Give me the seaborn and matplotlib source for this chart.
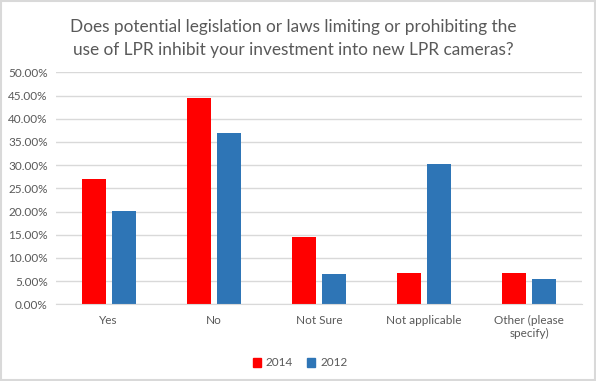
import seaborn as sns
import matplotlib.pyplot as plt
import matplotlib.ticker as mticker
import pandas as pd

categories = ['Yes', 'No', 'Not Sure', 'Not applicable', 'Other (please\nspecify)']
years = ['2014', '2012']
vals_2014 = [27.0, 44.5, 14.5, 6.75, 6.75]
vals_2012 = [20.1, 36.9, 6.5, 30.2, 5.5]

df = pd.DataFrame({
    'category': categories * 2,
    'year': [years[0]] * 5 + [years[1]] * 5,
    'pct': vals_2014 + vals_2012,
})

plt.rcParams['font.family'] = ['Lato', 'DejaVu Sans']
grey = '#595959'
grid = '#d9d9d9'

fig = plt.figure(figsize=(5.96, 3.81), dpi=100)
ax = fig.add_axes([56 / 596, 76.7 / 381, 526 / 596, 232 / 381])

sns.barplot(data=df, x='category', y='pct', hue='year', hue_order=years,
            palette={'2014': '#ff0000', '2012': '#2e75b6'}, width=0.57,
            gap=0.2, saturation=1, ax=ax, legend=False)

ax.set_ylim(0, 50)
ax.set_xlim(-0.5, 4.5)
ax.yaxis.set_major_locator(mticker.MultipleLocator(5))
ax.yaxis.set_major_formatter(mticker.FuncFormatter(lambda v, p: f'{v:.2f}%'))
ax.grid(axis='y', color=grid, lw=1)
ax.set_axisbelow(True)
for s in ['top', 'right', 'left']:
    ax.spines[s].set_visible(False)
ax.spines['bottom'].set_color(grid)
ax.tick_params(length=0, colors=grey, labelsize=8.5)
ax.tick_params(axis='x', pad=8)
ax.tick_params(axis='y', pad=6)
ax.set_xlabel('')
ax.set_ylabel('')

fig.text(293.5 / 596, 1 - 27 / 381, 'Does potential legislation or laws limiting or prohibiting the',
         ha='center', va='center', fontsize=12.4, color=grey)
fig.text(293.5 / 596, 1 - 50 / 381, 'use of LPR inhibit your investment into new LPR cameras?',
         ha='center', va='center', fontsize=12.4, color=grey)

handles = [plt.Rectangle((0, 0), 1, 1, color=c) for c in ['#ff0000', '#2e75b6']]
fig.legend(handles, years, loc='center', bbox_to_anchor=(300 / 596, 1 - 363 / 381),
           ncol=2, frameon=False, fontsize=8.5, labelcolor=grey,
           handlelength=0.7, handleheight=0.7, handletextpad=0.4, columnspacing=1.2)

fig.patches.append(plt.Rectangle((0.001, 0.002), 0.997, 0.995, transform=fig.transFigure,
                                 fill=False, edgecolor=grid, lw=1.5))

fig.savefig('out.png', dpi=100)
